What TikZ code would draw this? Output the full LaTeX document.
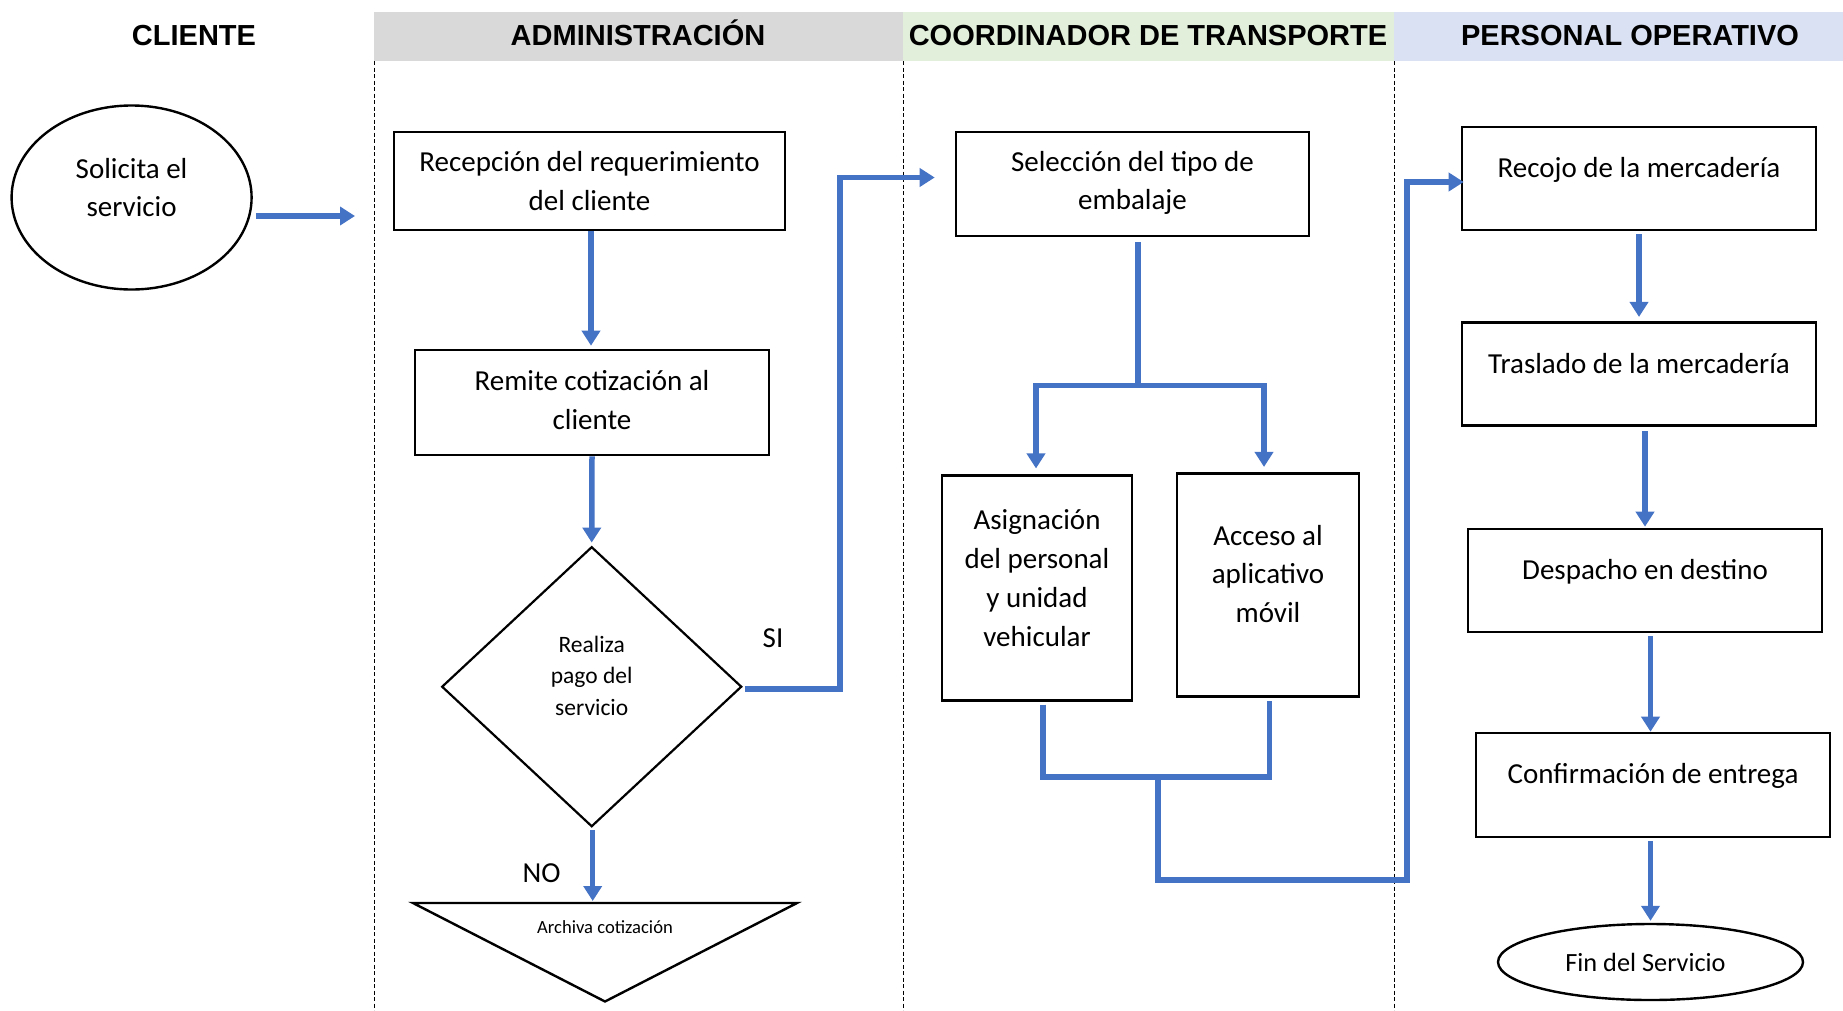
\documentclass[tikz,border=0pt]{standalone}
\usepackage{fontspec}
\setmainfont{Carlito}
\newfontfamily\headfont{Liberation Sans}
\usetikzlibrary{arrows.meta,shapes.geometric}
\definecolor{flowblue}{HTML}{4472C4}
\definecolor{admgray}{HTML}{D9D9D9}
\definecolor{coordgreen}{HTML}{E2EFDA}
\definecolor{operblue}{HTML}{D9E1F2}

\begin{document}
\begin{tikzpicture}[x=1pt,y=-1pt,
  box/.style={draw=black,line width=2.6pt,inner sep=0pt},
  txt/.style={font=\fontsize{29}{38.8}\selectfont,align=center,inner sep=0pt},
  smalltxt/.style={font=\fontsize{23.5}{31.7}\selectfont,align=center,inner sep=0pt},
  tinytxt/.style={font=\fontsize{18.6}{22}\selectfont,inner sep=0pt},
  head/.style={font=\headfont\bfseries\fontsize{29}{34}\selectfont,inner sep=0pt,anchor=base},
  link/.style={draw=flowblue,line width=5.5pt},
  flow/.style={link,-{Triangle[width=18pt,length=15pt]}},
  lanesep/.style={draw=black,line width=1pt,dash pattern=on 4pt off 2.5pt}]

\useasboundingbox (0,0) rectangle (1843,1010);

% lane headers
\fill[admgray] (374,12) rectangle (903,61);
\fill[coordgreen] (903,12) rectangle (1394,61);
\fill[operblue] (1394,12) rectangle (1843,61);
\node[head] (hcli) at (194,45.5) {CLIENTE};
\node[head] (hadm) at (638,45.5) {ADMINISTRACIÓN};
\node[head] (hcoo) at (1148,45.5) {COORDINADOR DE TRANSPORTE};
\node[head] (hper) at (1630,45.5) {PERSONAL OPERATIVO};

% lane separators
\draw[lanesep] (374,61) -- (374,1010);
\draw[lanesep] (903,61) -- (903,1010);
\draw[lanesep] (1394,61) -- (1394,1010);

% cliente
\node[ellipse,draw,line width=2.4pt,minimum width=240pt,minimum height=184pt,inner sep=0pt] (sol) at (131.6,197.5) {};
\node[txt] (solt) at ([yshift=10pt]sol.center) {Solicita el\\servicio};

% administracion
\node[box,minimum width=391pt,minimum height=98pt] (rec) at (589.5,181) {};
\node[txt] (rect) at (rec.center) {Recepción del requerimiento\\del cliente};
\node[box,minimum width=354pt,minimum height=105pt] (rem) at (592,402.5) {};
\node[txt] (remt) at ([yshift=2.5pt]rem.center) {Remite cotización al\\cliente};
\node[diamond,draw,line width=2.2pt,minimum width=300pt,minimum height=280pt,inner sep=0pt] (pago) at (591.7,686.7) {};
\node[smalltxt] (pagot) at ([yshift=11pt]pago.center) {Realiza\\pago del\\servicio};
\coordinate (tl) at (413,903);
\coordinate (tr) at (797,903);
\coordinate (tb) at (605,1001.5);
\draw[line width=2.4pt] (tl) -- (tr) -- (tb) -- cycle;
\node[tinytxt] (arch) at (605,926.7) {Archiva cotización};
\node[txt] (si) at (773,638) {SI};
\node[txt] (no) at (541.7,873) {NO};

% coordinador de transporte
\node[box,minimum width=353pt,minimum height=104pt] (sel) at (1132.5,184) {};
\node[txt] (selt) at ([yshift=1pt]sel.center) {Selección del tipo de\\embalaje};
\node[box,minimum width=190pt,minimum height=224.5pt] (asg) at (1037,588) {};
\node[txt] (asgt) at ([yshift=10pt]asg.center) {Asignación\\del personal\\y unidad\\vehicular};
\node[box,minimum width=182pt,minimum height=223.5pt] (acc) at (1268,585) {};
\node[txt] (acct) at ([yshift=11pt]acc.center) {Acceso al\\aplicativo\\móvil};

% personal operativo
\node[box,minimum width=354pt,minimum height=103pt] (recojo) at (1639,178.5) {};
\node[txt] (recojot) at ([yshift=9pt]recojo.center) {Recojo de la mercadería};
\node[box,minimum width=354pt,minimum height=103.5pt] (tras) at (1639,374) {};
\node[txt] (trast) at ([yshift=10pt]tras.center) {Traslado de la mercadería};
\node[box,minimum width=354pt,minimum height=103pt] (desp) at (1645,580.5) {};
\node[txt] (despt) at ([yshift=9pt]desp.center) {Despacho en destino};
\node[box,minimum width=354pt,minimum height=104pt] (conf) at (1653,785) {};
\node[txt] (conft) at ([yshift=9pt]conf.center) {Confirmación de entrega};
\node[ellipse,draw,line width=2.4pt,minimum width=305pt,minimum height=76pt,inner sep=0pt] (fin) at (1650.5,962) {};
\node[txt,font=\fontsize{26.3}{30}\selectfont] (fint) at ([xshift=-5pt]fin.center) {Fin del Servicio};

% connectors
\coordinate (cin) at (355,216);
\draw[flow] ([xshift=3pt]sol.east |- cin) -- (cin);
\draw[flow,shorten >=3pt] ([xshift=1.5pt]rec.south) -- ([xshift=1.5pt]rec.south |- rem.north);
\draw[flow,shorten >=3pt] (rem.south) -- (pago.north);
\draw[flow,shorten >=20pt,shorten <=2pt] ([yshift=-2.5pt]pago.east) -- ++(97,0) |- ([yshift=6.5pt]sel.west);
\draw[flow,shorten >=2pt,shorten <=2pt] ([xshift=1pt]pago.south) -- ([xshift=1pt]pago.south |- tl);

\coordinate (fork) at (1138,385.5);
\draw[link] ([xshift=5.5pt,yshift=-5pt]sel.south) -- (fork);
\draw[flow,shorten >=6pt] (fork) -| ([xshift=-1pt]asg.north);
\draw[flow,shorten >=5pt] (fork) -| ([xshift=-4pt]acc.north);

\coordinate (join) at (1158,777);
\coordinate (bend) at (1407,880);
\draw[link] ([xshift=6pt,yshift=-3pt]asg.south) |- (join);
\draw[link] ([xshift=1.5pt,yshift=-3pt]acc.south) |- (join);
\draw[flow,shorten >=-3pt] (join) |- (bend) |- ([yshift=-3.5pt]recojo.west);

\draw[flow,shorten >=4pt,shorten <=3pt] (recojo.south) -- (tras.north);
\draw[flow,shorten >=1pt,shorten <=4pt] (desp.north |- tras.south) -- (desp.north);
\draw[flow,shorten <=3pt] (fin.north |- desp.south) -- (fin.north |- conf.north);
\draw[flow,shorten >=2pt,shorten <=3pt] (fin.north |- conf.south) -- (fin.north);
\end{tikzpicture}
\end{document}
